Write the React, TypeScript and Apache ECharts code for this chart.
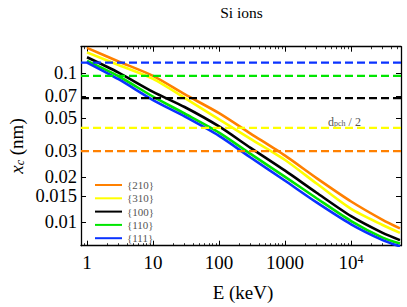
import React, { useEffect, useRef } from "react";
import * as echarts from "echarts";

// ---- data ----
const energies = [1, 3, 10, 30, 100, 300, 1000, 3000, 10000, 30000, 55000];
const seriesNames = ["{210}", "{310}", "{100}", "{110}", "{111}"];
const xc210 = [0.148, 0.12, 0.096, 0.0724, 0.054, 0.0394, 0.028, 0.0198, 0.0138, 0.0104, 0.0091];
const xc310 = [0.138, 0.1135, 0.0916, 0.0684, 0.049, 0.0363, 0.0262, 0.0182, 0.0123, 0.0096, 0.0085];
const xc100 = [0.128, 0.101, 0.075, 0.0594, 0.044, 0.0316, 0.0222, 0.0158, 0.011, 0.0085, 0.0076];
const xc110 = [0.121, 0.0955, 0.0697, 0.0537, 0.04, 0.0288, 0.0202, 0.0145, 0.0102, 0.0079, 0.0072];
const xc111 = [0.118, 0.0912, 0.066, 0.0513, 0.038, 0.0272, 0.019, 0.0136, 0.0097, 0.0076, 0.0069];
const dpchHalf = [0.03, 0.043, 0.068, 0.096, 0.118]; // same order as seriesNames
const xTicks = [1, 10, 100, 1000, 10000];
const xTickLabels = ["1", "10", "100", "1000", "10{sup|4}"];
const yTicks = [0.01, 0.015, 0.02, 0.03, 0.05, 0.07, 0.1];
const yTickLabels = ["0.01", "0.015", "0.02", "0.03", "0.05", "0.07", "0.1"];

const colors = ["#ff8000", "#ffff00", "#000000", "#00e600", "#0a32ff"];
const X_MIN = 0.81;
const X_MAX = 57000;
const Y_MIN = 0.00697;
const Y_MAX = 0.1507;

const minorX: number[] = [];
for (let d = 0.1; d <= 10000; d *= 10) {
  for (let k = 2; k <= 9; k++) {
    const v = Math.round(d * k * 1000) / 1000;
    if (v > X_MIN && v < X_MAX) minorX.push(v);
  }
}

const serif = "'Liberation Serif', 'DejaVu Serif', serif";

export default function App() {
  const ref = useRef<HTMLDivElement>(null);
  useEffect(() => {
    if (!ref.current) return;
    const chart = echarts.init(ref.current, undefined, { renderer: "svg" });
    const values = [xc210, xc310, xc100, xc110, xc111];
    const curveSeries = seriesNames.map((name, i) => ({
      name,
      type: "line",
      data: energies.map((e, j) => [e, values[i][j]]),
      symbol: "none",
      smooth: 0.25,
      lineStyle: { color: colors[i], width: 2.6 },
      itemStyle: { color: colors[i] },
      z: 2,
    }));
    const dashedSeries = dpchHalf.map((v, i) => ({
      name: "dpch" + i,
      type: "line",
      data: [
        [X_MIN, v],
        [X_MAX, v],
      ],
      symbol: "none",
      lineStyle: { color: colors[i], width: 2.3, type: [8, 4] },
      z: 3,
    }));
    const axisLineStyle = { color: "#000", width: 1.3 };
    const baseX = { type: "log", min: X_MIN, max: X_MAX, splitLine: { show: false }, minorTick: { show: false } };
    const baseY = { type: "log", min: Y_MIN, max: Y_MAX, splitLine: { show: false }, minorTick: { show: false } };
    const legendText = { fontSize: 11, lineHeight: 11, color: "#555", fontFamily: serif };
    const option: any = {
      animation: false,
      grid: { left: 81, top: 46.7, right: 6, bottom: 61.3, containLabel: false },
      xAxis: [
        {
          ...baseX,
          position: "bottom",
          axisLine: { show: true, lineStyle: axisLineStyle },
          axisTick: { show: true, customValues: xTicks, inside: true, length: 5, lineStyle: { color: "#000", width: 1 } },
          axisLabel: {
            customValues: xTicks,
            color: "#000",
            fontFamily: serif,
            fontSize: 19,
            margin: 7,
            formatter: (v: number) => {
              const idx = xTicks.findIndex((t) => Math.abs(t - v) / t < 1e-6);
              return idx >= 0 ? xTickLabels[idx] : "";
            },
            rich: { sup: { fontSize: 12, fontFamily: serif, color: "#000", verticalAlign: "top", lineHeight: 12 } },
          },
        },
        {
          ...baseX,
          position: "bottom",
          axisLine: { show: false },
          axisTick: { show: true, customValues: minorX, inside: true, length: 2.5, lineStyle: { color: "#000", width: 0.8 } },
          axisLabel: { show: false },
        },
        {
          ...baseX,
          position: "top",
          axisLine: { show: true, lineStyle: axisLineStyle },
          axisTick: { show: true, customValues: xTicks, inside: true, length: 5, lineStyle: { color: "#000", width: 1 } },
          axisLabel: { show: false },
        },
        {
          ...baseX,
          position: "top",
          axisLine: { show: false },
          axisTick: { show: true, customValues: minorX, inside: true, length: 2.5, lineStyle: { color: "#000", width: 0.8 } },
          axisLabel: { show: false },
        },
      ],
      yAxis: [
        {
          ...baseY,
          position: "left",
          axisLine: { show: true, lineStyle: axisLineStyle },
          axisTick: { show: true, customValues: yTicks, inside: true, length: 5, lineStyle: { color: "#000", width: 1 } },
          axisLabel: {
            customValues: yTicks,
            color: "#000",
            fontFamily: serif,
            fontSize: 18.5,
            lineHeight: 16,
            margin: 4,
            formatter: (v: number) => {
              const idx = yTicks.findIndex((t) => Math.abs(t - v) / t < 1e-6);
              return idx >= 0 ? yTickLabels[idx] : "";
            },
          },
        },
        {
          ...baseY,
          position: "right",
          axisLine: { show: true, lineStyle: axisLineStyle },
          axisTick: { show: true, customValues: yTicks, inside: true, length: 5, lineStyle: { color: "#000", width: 1 } },
          axisLabel: { show: false },
        },
      ],
      legend: {
        data: seriesNames.map((n) => ({ name: n, textStyle: legendText })),
        orient: "vertical",
        left: 95,
        top: 179.5,
        padding: 0,
        itemWidth: 27,
        itemHeight: 8,
        itemGap: 2.3,
        icon: "path://M0,3 L27,3 L27,5 L0,5 Z",
        textStyle: legendText,
        selectedMode: false,
      },
      graphic: [
        {
          type: "text",
          x: 241.5,
          y: 12,
          style: { text: "Si ions", font: `15.5px ${serif}`, fill: "#000", align: "center", verticalAlign: "middle" },
        },
        {
          type: "text",
          x: 243,
          y: 292,
          style: { text: "E (keV)", font: `19px ${serif}`, fill: "#000", align: "center", verticalAlign: "middle" },
        },
        {
          type: "text",
          x: 16,
          y: 146,
          rotation: Math.PI / 2,
          style: {
            text: "{i|x}{s|c}{n| (nm)}",
            align: "center",
            verticalAlign: "middle",
            fill: "#000",
            rich: {
              i: { font: `italic 19px ${serif}`, fill: "#000", lineHeight: 20, verticalAlign: "bottom" },
              s: { font: `italic 12px ${serif}`, fill: "#000", lineHeight: 16, verticalAlign: "bottom" },
              n: { font: `19px ${serif}`, fill: "#000", lineHeight: 20, verticalAlign: "bottom" },
            },
          },
        },
        {
          type: "text",
          x: 328,
          y: 121,
          style: {
            text: "{d|d}{s|pch}{d| / 2}",
            align: "left",
            verticalAlign: "middle",
            fill: "#555",
            rich: {
              d: { font: `12px ${serif}`, fill: "#555", lineHeight: 13, verticalAlign: "bottom" },
              s: { font: `8px ${serif}`, fill: "#555", lineHeight: 9, verticalAlign: "bottom" },
            },
          },
        },
      ],
      series: [...curveSeries, ...dashedSeries],
    };
    chart.setOption(option);
    return () => chart.dispose();
  }, []);
  return <div ref={ref} style={{ position: "fixed", left: 0, top: 0, width: 407, height: 307, background: "#fff" }} />;
}
